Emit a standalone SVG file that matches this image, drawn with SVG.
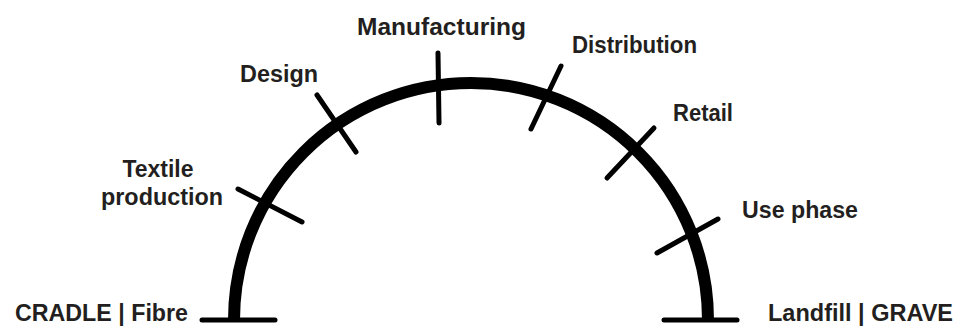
<svg xmlns="http://www.w3.org/2000/svg" width="963" height="329" viewBox="0 0 963 329">
<style>
.lbl{font-family:"Liberation Sans",Arial,sans-serif;font-weight:bold;font-size:23px;fill:#231f20}
.arc{fill:none;stroke:#000;stroke-width:12}
.tick{stroke:#000;stroke-width:5;stroke-linecap:round}
.base{stroke:#000;stroke-width:5;stroke-linecap:round}
</style>
<rect width="963" height="329" fill="#fff"/>
<g id="connectors">
<path class="arc" d="M 234 320 A 237 237 0 0 1 708 320"/>
</g>
<g id="cradle">
<line class="base" x1="202" y1="320" x2="275" y2="320"/>
<text class="lbl" x="15" y="321" textLength="173" lengthAdjust="spacingAndGlyphs">CRADLE | Fibre</text>
</g>
<g id="textile">
<line class="tick" x1="238" y1="189" x2="302" y2="222"/>
<text class="lbl" x="158" y="177" text-anchor="middle" textLength="71" lengthAdjust="spacingAndGlyphs">Textile</text>
<text class="lbl" x="162" y="205" text-anchor="middle" textLength="122" lengthAdjust="spacingAndGlyphs">production</text>
</g>
<g id="design">
<line class="tick" x1="317" y1="95" x2="356" y2="152"/>
<text class="lbl" x="240" y="82" textLength="78" lengthAdjust="spacingAndGlyphs">Design</text>
</g>
<g id="manufacturing">
<line class="tick" x1="438" y1="53" x2="439" y2="123"/>
<text class="lbl" x="357" y="35" textLength="169" lengthAdjust="spacingAndGlyphs">Manufacturing</text>
</g>
<g id="distribution">
<line class="tick" x1="561" y1="66" x2="531" y2="129"/>
<text class="lbl" x="572" y="53" textLength="125" lengthAdjust="spacingAndGlyphs">Distribution</text>
</g>
<g id="retail">
<line class="tick" x1="654" y1="128" x2="607" y2="178"/>
<text class="lbl" x="673" y="121" textLength="60" lengthAdjust="spacingAndGlyphs">Retail</text>
</g>
<g id="usephase">
<line class="tick" x1="718" y1="219" x2="657" y2="253"/>
<text class="lbl" x="742" y="218" textLength="116" lengthAdjust="spacingAndGlyphs">Use phase</text>
</g>
<g id="grave">
<line class="base" x1="664" y1="320" x2="737" y2="320"/>
<text class="lbl" x="768" y="321" textLength="185" lengthAdjust="spacingAndGlyphs">Landfill | GRAVE</text>
</g>
</svg>
